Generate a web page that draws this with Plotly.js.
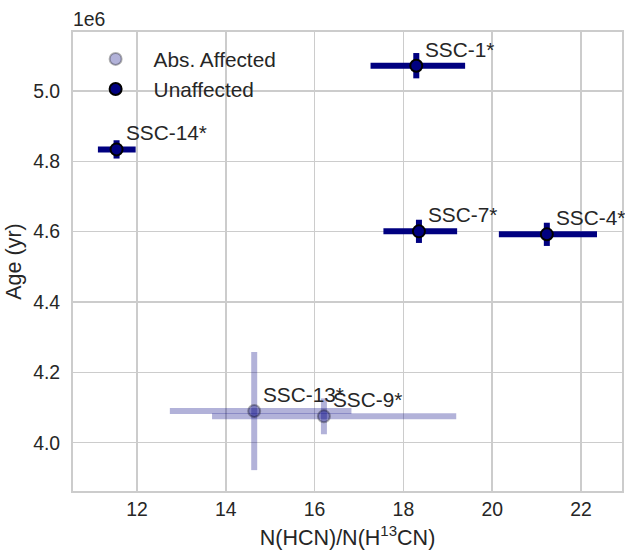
<!DOCTYPE html>
<html>
<head>
<meta charset="utf-8">
<script src="https://cdn.plot.ly/plotly-3.0.1.min.js"></script>
<style>html,body{margin:0;padding:0;background:#fff;}#chart{width:625px;height:550px;}</style>
</head>
<body>
<div id="chart"></div>
<script>
// Unaffected sources
const unaffLabels = ['SSC-1*', 'SSC-4*', 'SSC-7*', 'SSC-14*'];
const unaffRatio = [18.29, 21.23, 18.35, 11.54];
const unaffRatioErrPlus = [1.10, 1.13, 0.86, 0.43];
const unaffRatioErrMinus = [1.03, 1.08, 0.80, 0.42];
const unaffAge = [5.072e6, 4.5925e6, 4.601e6, 4.834e6];
const unaffAgeErr = [0.036e6, 0.033e6, 0.033e6, 0.026e6];

// Absorption-affected sources
const affLabels = ['SSC-13*', 'SSC-9*'];
const affRatio = [14.64, 16.21];
const affRatioErrPlus = [2.19, 2.98];
const affRatioErrMinus = [1.90, 2.52];
const affAge = [4.090e6, 4.075e6];
const affAgeErr = [0.168e6, 0.051e6];

// Axis ticks
const xTicks = [12, 14, 16, 18, 20, 22];
const yTicks = [4.0e6, 4.2e6, 4.4e6, 4.6e6, 4.8e6, 5.0e6];

const navy = 'rgb(0,0,128)';
const navyA = 'rgba(0,0,128,0.3)';
const font = '"Liberation Sans", Arial, sans-serif';
const txt = '#262626';

const traces = [
  {
    type: 'scatter', mode: 'markers', name: 'Abs. Affected',
    x: affRatio, y: affAge,
    marker: {size: 12, color: navyA, line: {color: 'rgba(0,0,0,0.3)', width: 2}},
    error_x: {type: 'data', symmetric: false, array: affRatioErrPlus, arrayminus: affRatioErrMinus, color: navyA, thickness: 6, width: 0},
    error_y: {type: 'data', array: affAgeErr, color: navyA, thickness: 6, width: 0},
    hoverinfo: 'skip'
  },
  {
    type: 'scatter', mode: 'markers', name: 'Unaffected',
    x: unaffRatio, y: unaffAge,
    marker: {size: 12, color: navy, line: {color: '#000', width: 2}},
    error_x: {type: 'data', symmetric: false, array: unaffRatioErrPlus, arrayminus: unaffRatioErrMinus, color: navy, thickness: 6, width: 0},
    error_y: {type: 'data', array: unaffAgeErr, color: navy, thickness: 6, width: 0},
    hoverinfo: 'skip'
  }
];

const annotations = [];
function addLabels(xs, ys, labels) {
  for (let i = 0; i < labels.length; i++) {
    annotations.push({
      x: xs[i], y: ys[i], xref: 'x', yref: 'y', text: labels[i],
      showarrow: false, xanchor: 'left', yanchor: 'bottom', xshift: 7, yshift: 3,
      font: {family: font, size: 20.8, color: txt}
    });
  }
}
addLabels(affRatio, affAge, affLabels);
addLabels(unaffRatio, unaffAge, unaffLabels);
annotations.push({
  x: 0, y: 1, xref: 'paper', yref: 'paper', text: '1e6', showarrow: false,
  xanchor: 'left', yanchor: 'bottom', yshift: 0, xshift: -2,
  font: {family: font, size: 19.4, color: txt}
});

const layout = {
  width: 625, height: 550,
  margin: {l: 73, r: 3, t: 32, b: 59},
  paper_bgcolor: '#fff', plot_bgcolor: '#fff',
  font: {family: font, size: 19.4, color: txt},
  showlegend: true,
  legend: {
    x: 0.0084, y: 0.985, xanchor: 'left', yanchor: 'top',
    bgcolor: 'rgba(0,0,0,0)', borderwidth: 0,
    font: {family: font, size: 20.8, color: txt},
    itemwidth: 66
  },
  xaxis: {
    range: [10.559, 22.923],
    tickvals: xTicks, ticktext: xTicks.map(String),
    showgrid: true, gridcolor: '#cccccc', gridwidth: 1.5,
    showline: true, linecolor: '#cccccc', linewidth: 2, mirror: true,
    zeroline: false, ticks: '', ticklabelstandoff: 0,
    tickfont: {family: font, size: 19.4, color: txt},
    title: {text: 'N(HCN)/N(H<sup>13</sup>CN)', font: {family: font, size: 21.5, color: txt}, standoff: 12}
  },
  yaxis: {
    range: [3.8627e6, 5.1678e6],
    tickvals: yTicks, ticktext: yTicks.map(v => (v / 1e6).toFixed(1)),
    showgrid: true, gridcolor: '#cccccc', gridwidth: 1.5,
    showline: true, linecolor: '#cccccc', linewidth: 2, mirror: true,
    zeroline: false, ticks: '', ticklabelstandoff: 7,
    tickfont: {family: font, size: 19.4, color: txt},
    title: {text: 'Age (yr)', font: {family: font, size: 21.5, color: txt}, standoff: 6}
  },
  annotations: annotations
};

Plotly.newPlot('chart', traces, layout, {displayModeBar: false, staticPlot: true});
</script>
</body>
</html>
